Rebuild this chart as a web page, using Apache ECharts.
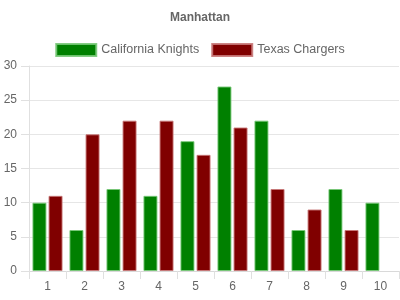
<!DOCTYPE html>
<html><head><meta charset="utf-8">
<script src="https://cdn.jsdelivr.net/npm/echarts@6/dist/echarts.min.js"></script>
<style>html,body{margin:0;padding:0;background:#fff}#c{width:400px;height:300px}</style>
</head><body><div id="c"></div>
<script>
const categories = ['1','2','3','4','5','6','7','8','9','10'];
const californiaKnights = [10, 6, 12, 11, 19, 27, 22, 6, 12, 10];
const texasChargers = [11, 20, 22, 22, 17, 21, 12, 9, 6, null];
const chart = echarts.init(document.getElementById('c'), null, {renderer:'canvas'});
const font = 'Arial, "Liberation Sans", sans-serif';
chart.setOption({
  animation:false,
  title:{text:'Manhattan', left:'center', top:7, textStyle:{fontSize:12, fontWeight:'bold', color:'#666', fontFamily:font}},
  legend:{top:38, left:'center', itemWidth:40, itemHeight:12, itemGap:12, icon:'rect',
    textStyle:{fontSize:12.5, color:'#666', fontFamily:font},
    data:['California Knights','Texas Chargers']},
  grid:{left:29, right:1, top:66, bottom:29},
  xAxis:{type:'category', data:categories, boundaryGap:true,
    axisLine:{lineStyle:{color:'#d9d9d9'}},
    axisTick:{show:true, length:8, lineStyle:{color:'#e0e0e0'}},
    axisLabel:{color:'#666', fontSize:12, fontFamily:font, margin:10},
    splitLine:{show:false}},
  yAxis:{type:'value', min:0, max:30, interval:5,
    axisLine:{show:true, lineStyle:{color:'#e0e0e0'}},
    axisTick:{show:true, length:8, lineStyle:{color:'#e0e0e0'}},
    axisLabel:{color:'#666', fontSize:12, fontFamily:font, margin:12},
    splitLine:{lineStyle:{color:'#e6e6e6'}}},
  series:[
    {name:'California Knights', type:'bar', data:californiaKnights, barWidth:14, barGap:'15%',
      itemStyle:{color:'#008000', borderColor:'rgba(120,200,120,0.9)', borderWidth:1}},
    {name:'Texas Chargers', type:'bar', data:texasChargers, barWidth:14,
      itemStyle:{color:'#800000', borderColor:'rgba(200,120,120,0.9)', borderWidth:1}}
  ]
});
</script></body></html>
